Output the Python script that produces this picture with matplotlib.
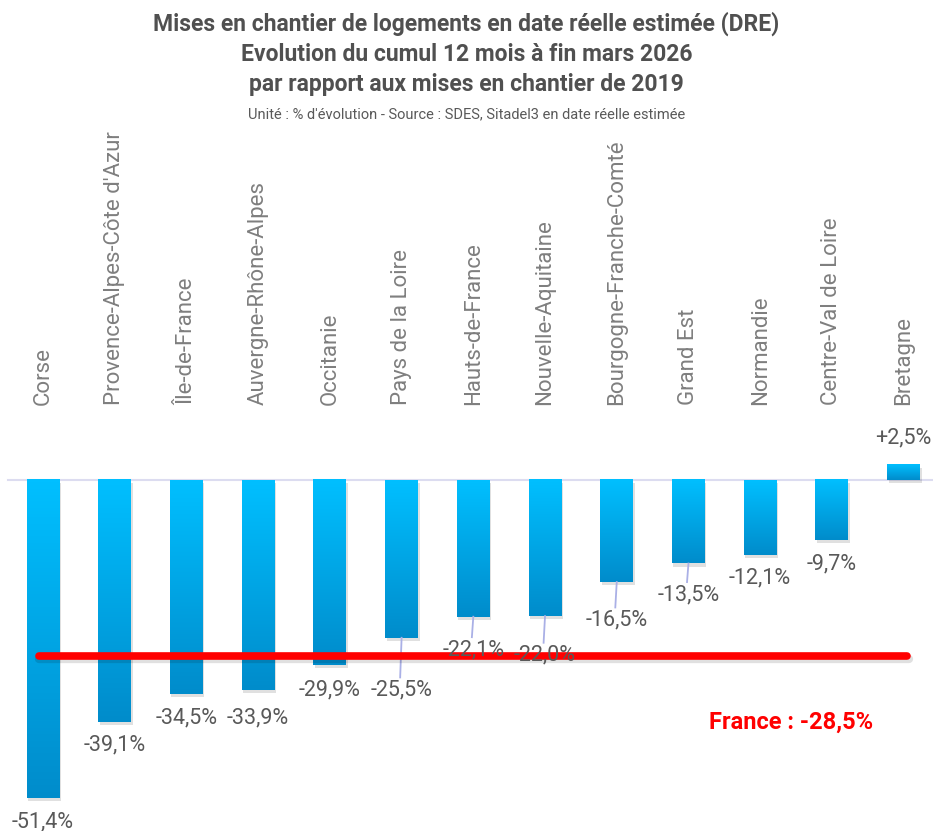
import matplotlib.pyplot as plt
import numpy as np
from matplotlib.patches import Rectangle
from matplotlib.colors import LinearSegmentedColormap

# data
regions = ['Corse', 'Provence-Alpes-Côte d\'Azur', 'Île-de-France', 'Auvergne-Rhône-Alpes',
           'Occitanie', 'Pays de la Loire', 'Hauts-de-France', 'Nouvelle-Aquitaine',
           'Bourgogne-Franche-Comté', 'Grand Est', 'Normandie', 'Centre-Val de Loire', 'Bretagne']
values = [-51.4, -39.1, -34.5, -33.9, -29.9, -25.5, -22.1, -22.0, -16.5, -13.5, -12.1, -9.7, 2.5]
france = -28.5

title = ("Mises en chantier de logements en date réelle estimée (DRE)\n"
         "Evolution du cumul 12 mois à fin mars 2026\n"
         "par rapport aux mises en chantier de 2019")
subtitle = "Unité : % d'évolution - Source : SDES, Sitadel3 en date réelle estimée"

# label offsets from bar end (data units, negative = below) and leader lines
label_off = [-3.9, -3.7, -3.9, -4.5, -4.0, -8.4, -5.3, -6.3, -6.1, -5.0, -3.7, -3.9, 4.2]
leader = [False, False, False, False, False, True, True, True, True, True, False, False, False]

plt.rcParams['font.family'] = ['Roboto', 'DejaVu Sans']
grey = '#595959'

fig = plt.figure(figsize=(9.33, 8.31), dpi=100)
ax = fig.add_axes([0, 0, 1, 1])
ax.set_xlim(-0.6, 12.41)
ax.set_ylim(-56.7, 77.5)
ax.axis('off')

x = np.arange(len(values))
w = 0.46
grad = np.linspace(0, 1, 100).reshape(-1, 1)
cmap = LinearSegmentedColormap.from_list('b', ['#00BFFF', '#008CCB'])

# zero line
ax.plot([-0.49, 12.41], [0, 0], color='#dcdcf0', lw=1.5, zorder=1)

for i, v in enumerate(values):
    top, bot = max(v, 0), min(v, 0)
    # shadow
    ax.add_patch(Rectangle((x[i] - w / 2 + 0.02, bot - 0.5), w, top - bot,
                           color='#000000', alpha=0.12, lw=0, zorder=2))
    ax.imshow(grad, cmap=cmap, extent=(x[i] - w / 2, x[i] + w / 2, bot, top),
              aspect='auto', zorder=3)
    ly = v + label_off[i]
    txt = (f'+{v:.1f}%' if v > 0 else f'{v:.1f}%').replace('.', ',')
    ax.text(x[i], ly, txt, ha='center', va='center', fontsize=15.5, color=grey, zorder=6)
    if leader[i]:
        ax.plot([x[i], x[i] - 0.02], [v, ly + 2.0], color='#aab0e6', lw=1.3, zorder=4)
    # category label
    ax.text(x[i], 12.1, regions[i], rotation=90, ha='center', va='bottom',
            fontsize=16, color='#7f7f7f')

ax.set_autoscale_on(False)

# France line
ax.plot([-0.05, 12.07], [france - 0.5, france - 0.5], color='black', alpha=0.12, lw=6,
        solid_capstyle='round', zorder=4)
ax.plot([-0.05, 12.05], [france, france], color='#FF0000', lw=5.5,
        solid_capstyle='round', zorder=5)
ax.text(10.43, -39.2, 'France : -28,5%', ha='center', va='center', fontsize=17,
        fontweight='bold', color='#FF0000')

fig.text(0.5, 0.986, title, ha='center', va='top', fontsize=16.5, fontweight='bold',
         color='#505050', linespacing=1.4)
fig.text(0.5, 0.863, subtitle, ha='center', va='center', fontsize=10.5, color=grey)

fig.savefig('out.png', dpi=100)
